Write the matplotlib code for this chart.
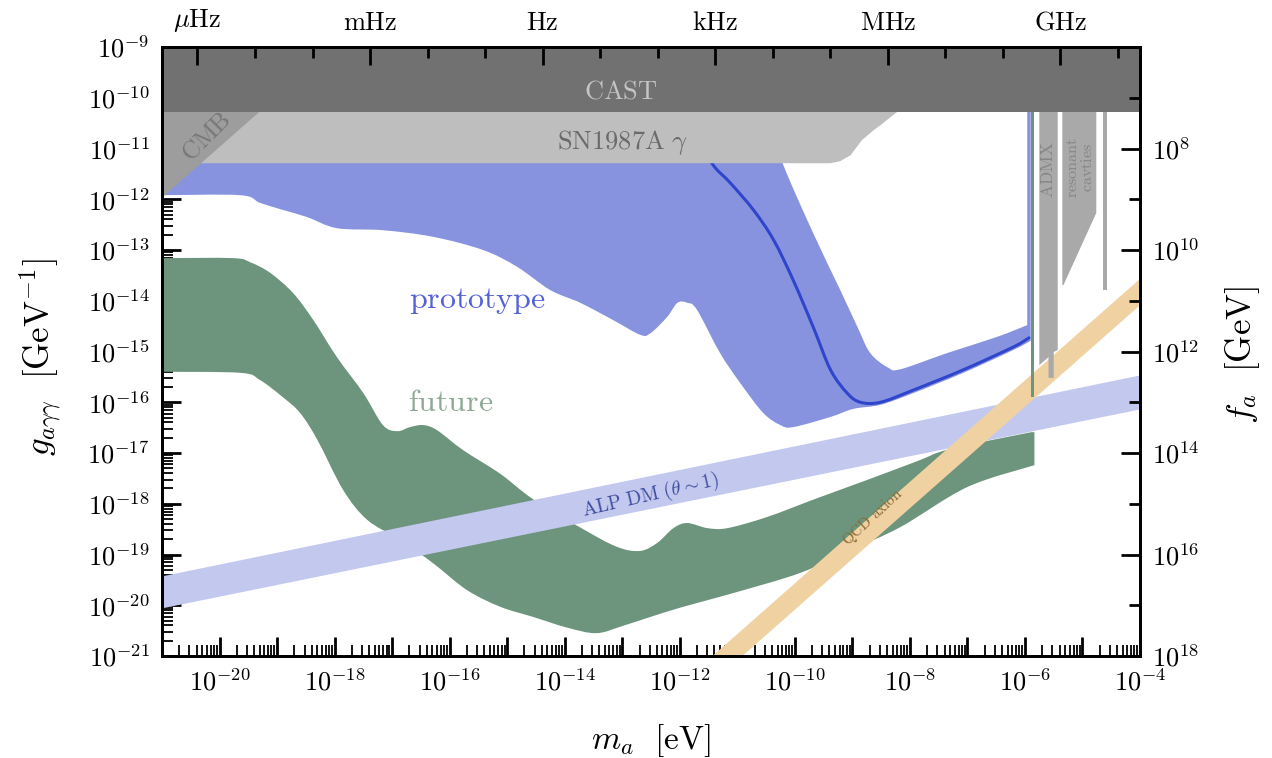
import numpy as np
import matplotlib
matplotlib.use("Agg")
import matplotlib.pyplot as plt
from matplotlib.path import Path
from matplotlib.patches import PathPatch
from matplotlib.ticker import FixedLocator, FuncFormatter, LogLocator, NullFormatter

plt.rcParams['mathtext.fontset'] = 'cm'
plt.rcParams['font.family'] = ['DejaVu Serif']

# ---------------- data (log10 of m_a [eV] and g [GeV^-1]) ----------------
cast_logg = -10.28

sn_logm = [-21.0, -8.22, -8.22, -8.29, -8.51, -8.63, -8.83, -9.03, -9.21, -9.38, -21.0]
sn_logg = [-10.0, -10.0, -10.28, -10.34, -10.54, -10.64, -10.83, -11.13, -11.25, -11.29, -11.29]

cmb_logm = [-21.0, -18.03, -21.0]
cmb_logg = [-11.97, -9.0, -9.0]

proto_upper_logm = [-21.0, -10.60, -10.20, -9.68, -9.21, -8.91, -8.69, -8.39, -8.165,
                    -7.35, -6.48, -5.96, -5.96]
proto_upper_logg = [-10.0, -10.04, -11.325, -12.67, -13.79, -14.52, -15.03, -15.31, -15.35,
                    -15.03, -14.71, -14.48, -10.0]
proto_lower_logm = [-5.90, -5.90, -6.20, -7.07, -7.94, -8.51, -8.98, -9.38, -10.03, -10.25,
                    -10.55, -10.95, -11.30, -11.70, -11.87, -12.04, -12.22, -12.51, -12.69,
                    -13.16, -13.73, -14.25, -14.83, -15.42, -16.29, -17.16, -17.96, -18.48,
                    -18.90, -19.30, -19.64, -21.0]
proto_lower_logg = [-10.0, -14.79, -14.97, -15.42, -15.82, -16.05, -16.13, -16.29, -16.49, -16.45,
                    -16.21, -15.62, -15.03, -14.18, -14.04, -14.04, -14.32, -14.64, -14.67,
                    -14.38, -14.04, -13.79, -13.33, -13.00, -12.74, -12.61, -12.57, -12.35,
                    -12.21, -12.07, -11.92, -11.92]

proto_line_logm = [-11.64, -11.42, -11.12, -10.72, -10.37, -10.03, -9.68, -9.38, -9.09,
                   -8.86, -8.51, -7.94, -7.07, -6.20, -5.93]
proto_line_logg = [-10.83, -11.325, -11.68, -12.21, -12.80, -13.59, -14.52, -15.36, -15.82,
                   -16.00, -16.00, -15.76, -15.36, -14.91, -14.73]

fut_top_logm = [-21.0, -19.77, -19.47, -19.12, -18.72, -18.37, -17.96, -17.50, -17.16, -16.91,
                -16.69, -16.46, -16.22, -15.77, -15.12, -14.55, -13.68, -13.09, -12.69, -12.39,
                -12.11, -11.87, -11.52, -11.17, -10.48, -9.61, -8.74, -7.87, -7.30, -5.89]
fut_top_logg = [-13.16, -13.16, -13.24, -13.45, -13.85, -14.38, -15.11, -15.82, -16.45, -16.57,
                -16.49, -16.45, -16.55, -16.94, -17.41, -17.91, -18.50, -18.85, -18.93, -18.77,
                -18.48, -18.38, -18.48, -18.48, -18.26, -17.89, -17.53, -17.16, -16.92, -16.59]
fut_bot_logm = [-5.835, -5.835, -7.0, -8.165, -9.03, -9.90, -11.07, -11.94, -12.51, -13.00,
                -13.45, -13.96, -14.55, -15.12, -15.70, -16.29, -16.86, -17.43, -17.85, -18.30,
                -18.60, -18.90, -19.30, -19.64, -21.0]
fut_bot_logg = [-16.59, -17.24, -17.67, -18.46, -18.91, -19.36, -19.76, -20.03, -20.23, -20.41,
                -20.55, -20.44, -20.23, -20.03, -19.70, -19.17, -18.71, -18.32, -17.73, -16.74,
                -16.21, -15.90, -15.56, -15.42, -15.40]
fut_strip_logm = [-5.89, -5.835]
fut_strip_logg = [-15.9, -10.0]

alp_logm = [-21.0, -4.0]
alp_hi_logg = [-19.42, -15.46]
alp_lo_logg = [-20.05, -16.13]

qcd_logm = [-12.0, -4.0]
qcd_hi_logg = [-21.55, -13.55]
qcd_lo_logg = [-22.07, -14.07]

admx_logm = [-5.75, -5.43, -5.43, -5.50, -5.50, -5.59, -5.59, -5.75]
admx_logg = [-10.0, -10.0, -14.97, -15.01, -15.52, -15.52, -15.11, -15.27]
res_logm = [-5.35, -4.76, -4.76, -5.33, -5.35]
res_logg = [-10.0, -10.0, -12.27, -13.69, -13.69]
thin_logm = [-4.635, -4.58, -4.58, -4.635]
thin_logg = [-10.0, -10.0, -13.79, -13.79]

freq_major = [-6, -3, 0, 3, 6, 9]
freq_labels = [r'$\mu\mathrm{Hz}$', r'$\mathrm{mHz}$', r'$\mathrm{Hz}$',
               r'$\mathrm{kHz}$', r'$\mathrm{MHz}$', r'$\mathrm{GHz}$']
freq_minor = [-5, -4, -2, -1, 1, 2, 4, 5, 7, 8, 10]
fa_major = [8, 10, 12, 14, 16, 18]
fa_minor = [7, 9, 11, 13, 15, 17]

h_eVs = 4.1357e-15

# colours
c_cast = '#717171'
c_sn = '#bebebe'
c_cmb = '#9d9d9d'
c_proto = '#8893e0'
c_proto_line = '#2e45cc'
c_future = '#6d947c'
c_alp = '#c3c8ee'
c_qcd = '#f0d2a2'
c_exp = '#a9a9a9'

P = lambda a: 10.0 ** np.asarray(a, dtype=float)


def smooth_path(lx, ly, corners=(), closed=True):
    """Path through the given (log) points, drawn as smooth Bezier curves
    between the listed corner points."""
    pts = np.column_stack([lx, ly]).astype(float)
    n = len(pts)
    cs = sorted(set(corners) | {0, n - 1})
    verts = [pts[0]]
    codes = [Path.MOVETO]
    for a, b in zip(cs[:-1], cs[1:]):
        run = pts[a:b + 1]
        m = len(run)
        if m == 2:
            verts.append(run[1])
            codes.append(Path.LINETO)
            continue
        for i in range(m - 1):
            p0 = run[i - 1] if i > 0 else run[i]
            p1 = run[i]
            p2 = run[i + 1]
            p3 = run[i + 2] if i + 2 < m else run[i + 1]
            c1 = p1 + (p2 - p0) / 6.0
            c2 = p2 - (p3 - p1) / 6.0
            verts += [c1, c2, p2]
            codes += [Path.CURVE4] * 3
    if closed:
        verts.append(pts[0])
        codes.append(Path.CLOSEPOLY)
    return Path(10.0 ** np.array(verts), codes)


fig = plt.figure(figsize=(12.72, 7.58), dpi=100)
ax = fig.add_axes([162/1272, 1-656/758, (1140-162)/1272, (656-47)/758])
ax.set_xscale('log')
ax.set_yscale('log')
ax.set_xlim(1e-21, 1e-4)
ax.set_ylim(1e-21, 1e-9)

# prototype
nu = len(proto_upper_logm)
proto_path = smooth_path(proto_upper_logm + proto_lower_logm,
                         proto_upper_logg + proto_lower_logg,
                         corners=[1, nu - 2, nu - 1, nu, nu + 1])
ax.add_patch(PathPatch(proto_path, facecolor=c_proto, lw=0, zorder=1))
line_path = smooth_path(proto_line_logm, proto_line_logg, closed=False)
ax.add_patch(PathPatch(line_path, facecolor='none', edgecolor=c_proto_line, lw=2.2,
                       capstyle='round', zorder=2))
# future
nt = len(fut_top_logm)
fut_path = smooth_path(fut_top_logm + fut_bot_logm, fut_top_logg + fut_bot_logg,
                       corners=[nt - 1, nt, nt + 1])
ax.add_patch(PathPatch(fut_path, facecolor=c_future, lw=0, zorder=3))
# ALP DM band
ax.fill_between(P(alp_logm), P(alp_lo_logg), P(alp_hi_logg), color=c_alp, lw=0, zorder=4)
# QCD axion band
ax.fill_between(P(qcd_logm), P(qcd_lo_logg), P(qcd_hi_logg), color=c_qcd, lw=0, zorder=5)
# future vertical edge
ax.fill_between(P(fut_strip_logm), P([fut_strip_logg[0]]*2), P([fut_strip_logg[1]]*2),
                color=c_future, lw=0, zorder=5.5)
# haloscopes
ax.fill(P(admx_logm), P(admx_logg), color=c_exp, lw=0, zorder=6)
ax.fill(P(res_logm), P(res_logg), color=c_exp, lw=0, zorder=6)
ax.fill(P(thin_logm), P(thin_logg), color=c_exp, lw=0, zorder=6)
# SN1987A, CMB, CAST
ax.fill(P(sn_logm), P(sn_logg), color=c_sn, lw=0, zorder=7)
ax.fill(P(cmb_logm), P(cmb_logg), color=c_cmb, lw=0, zorder=8)
ax.fill_between(P([-21, -4]), P([cast_logg]*2), P([-9, -9]), color=c_cast, lw=0, zorder=9)

# texts
ax.text(P(-13.02), P(-9.867), r'$\mathrm{CAST}$', color='#c4c4c4', fontsize=19,
        ha='center', va='center', zorder=10)
ax.text(P(-13.0), P(-10.89), r'$\mathrm{SN1987A}\ \gamma$', color='#6a6a6a', fontsize=19,
        ha='center', va='center', zorder=10)
ax.text(P(-20.23), P(-10.77), r'$\mathrm{CMB}$', color='#777777', fontsize=18, rotation=45,
        ha='center', va='center', rotation_mode='anchor', zorder=10)
ax.text(P(-15.52), P(-14.0), r'$\mathrm{prototype}$', color='#5361d8', fontsize=23,
        ha='center', va='center', zorder=10)
ax.text(P(-15.99), P(-16.0), r'$\mathrm{future}$', color='#8fa997', fontsize=23,
        ha='center', va='center', zorder=10)
ax.text(P(-12.51), P(-17.83), r'$\mathrm{ALP\ DM}\ (\theta\sim1)$', color='#3e4d9e', fontsize=14,
        rotation=13, ha='center', va='center', rotation_mode='anchor', zorder=10)
ax.text(P(-8.65), P(-18.26), r'$\mathrm{QCD\ axion}$', color='#8a6a35', fontsize=11,
        rotation=43, ha='center', va='center', rotation_mode='anchor', zorder=10)
ax.text(P(-5.59), P(-11.42), r'$\mathrm{ADMX}$', color='#858585', fontsize=12.5,
        rotation=90, ha='center', va='center', zorder=10)
ax.text(P(-5.04), P(-11.38), r'$\mathrm{resonant}$' + '\n' + r'$\mathrm{cavties}$',
        color='#858585', fontsize=11.5, rotation=90, ha='center', va='center',
        linespacing=0.85, zorder=10)

# ticks: main axes
xmaj = P(np.arange(-21, -3))
ax.xaxis.set_major_locator(FixedLocator(xmaj))
ax.xaxis.set_major_formatter(FuncFormatter(
    lambda v, p: r'$10^{%d}$' % round(np.log10(v)) if round(np.log10(v)) % 2 == 0 else ''))
ax.xaxis.set_minor_locator(LogLocator(base=10, subs=np.arange(2, 10), numticks=200))
ax.xaxis.set_minor_formatter(NullFormatter())
ymaj = P(np.arange(-21, -8))
ax.yaxis.set_major_locator(FixedLocator(ymaj))
ax.yaxis.set_major_formatter(FuncFormatter(lambda v, p: r'$10^{%d}$' % round(np.log10(v))))
ax.yaxis.set_minor_locator(LogLocator(base=10, subs=np.arange(2, 10), numticks=200))
ax.yaxis.set_minor_formatter(NullFormatter())
ax.tick_params(which='both', direction='in', top=False, right=False, labelsize=19)
ax.tick_params(which='major', length=14, width=2.0, pad=9)
ax.tick_params(which='minor', length=8, width=1.3)
for s in ax.spines.values():
    s.set_linewidth(2.0)
    s.set_zorder(12)

# top frequency axis
axt = ax.twiny()
axt.set_xscale('log')
axt.set_xlim(1e-21 / h_eVs, 1e-4 / h_eVs)
axt.xaxis.set_major_locator(FixedLocator(P(freq_major)))
axt.xaxis.set_major_formatter(FuncFormatter(
    lambda v, p: freq_labels[p] if p is not None and p < len(freq_labels) else ''))
axt.xaxis.set_minor_locator(FixedLocator(P(freq_minor)))
axt.xaxis.set_minor_formatter(NullFormatter())
axt.tick_params(which='both', direction='in', labelsize=19)
axt.tick_params(which='major', length=13, width=2.0, pad=9)
axt.tick_params(which='minor', length=8, width=2.0)
for s in axt.spines.values():
    s.set_linewidth(2.0)

# right f_a axis
axr = ax.twinx()
axr.set_yscale('log')
axr.set_ylim(1e18, 1e6)
axr.yaxis.set_major_locator(FixedLocator(P(fa_major)))
axr.yaxis.set_major_formatter(FuncFormatter(lambda v, p: r'$10^{%d}$' % round(np.log10(v))))
axr.yaxis.set_minor_locator(FixedLocator(P(fa_minor)))
axr.yaxis.set_minor_formatter(NullFormatter())
axr.tick_params(which='both', direction='in', labelsize=19)
axr.tick_params(which='major', length=14, width=2.0, pad=9)
axr.tick_params(which='minor', length=8, width=2.0)
for s in axr.spines.values():
    s.set_linewidth(2.0)

# axis labels
fig.text(651/1272, 1-741/758, r'$m_a\ \ [\mathrm{eV}]$', fontsize=24, ha='center', va='center')
fig.text(40/1272, 1-357/758, r'$g_{a\gamma\gamma}\ \ [\mathrm{GeV}^{-1}]$', fontsize=25,
         rotation=90, ha='center', va='center')
fig.text(1243/1272, 1-355/758, r'$f_a\ \ [\mathrm{GeV}]$', fontsize=25,
         rotation=90, ha='center', va='center')

fig.savefig('out.png', dpi=100)
